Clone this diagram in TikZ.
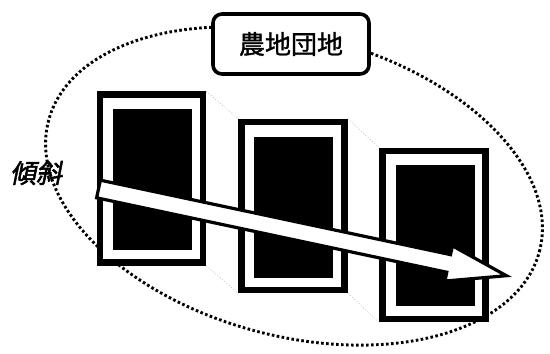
\documentclass[tikz,border=0pt]{standalone}
\usepackage{fontspec}
\newfontfamily\jpfont[FakeBold=1.2]{Noto Sans CJK JP}
\newfontfamily\jpslant[FakeSlant=0.2,FakeBold=2]{Noto Sans CJK JP}
\begin{document}
\begin{tikzpicture}[x=1pt,y=1pt,
  plotouter/.style={draw=black,line width=6.5pt,fill=white,minimum width=103pt,minimum height=168pt,inner sep=0pt},
  plotinner/.style={fill=black,minimum width=79pt,minimum height=141pt,inner sep=0pt},
  faint/.style={gray!60,line width=0.5pt,dash pattern=on 1pt off 2pt},
  dotring/.style={line width=2.9pt,dash pattern=on 2.6pt off 2.4pt},
  labelbox/.style={draw=black,line width=3.6pt,fill=white,rounded corners=9pt,minimum width=156pt,minimum height=60pt,inner sep=0pt},
  bigarrow/.style={draw=black,line width=3.2pt,fill=white,line join=miter}]
\useasboundingbox (0,0) rectangle (550,354);
% dotted ellipse
\draw[dotring,rotate around={-15:(294,168)}] (294,168) ellipse [x radius=254,y radius=150];
% plots
\node[plotouter] (p1) at (151.5,175.5) {};
\node[plotinner] (i1) at (152.5,174.5) {};
\node[plotouter] (p2) at (293,148) {};
\node[plotinner] (i2) at (293.5,146.5) {};
\node[plotouter] (p3) at (434,119) {};
\node[plotinner] (i3) at (435.5,118) {};
% faint perspective lines
\draw[faint] (p1.north east) -- (p2.north west);
\draw[faint] (p1.south east) -- (p2.south west);
\draw[faint] (p2.north east) -- (p3.north west);
\draw[faint] (p2.south east) -- (p3.south west);
% label
\node[labelbox] (lab) at (291,310) {\jpfont\fontsize{26}{26}\selectfont 農地団地};
% slope label
\node (slope) at (36,181) {\jpslant\fontsize{26}{26}\selectfont 傾斜};
% arrow
\begin{scope}[shift={(98.5,165)},rotate=-12]
  \coordinate (as) at (0,0);
  \coordinate (at) at (417,0);
  \draw[bigarrow] (as) ++(0,9) -- (358,9) -- (358,18) -- (at) -- (358,-18) -- (358,-9) -- (0,-9) -- cycle;
\end{scope}
\end{tikzpicture}
\end{document}
